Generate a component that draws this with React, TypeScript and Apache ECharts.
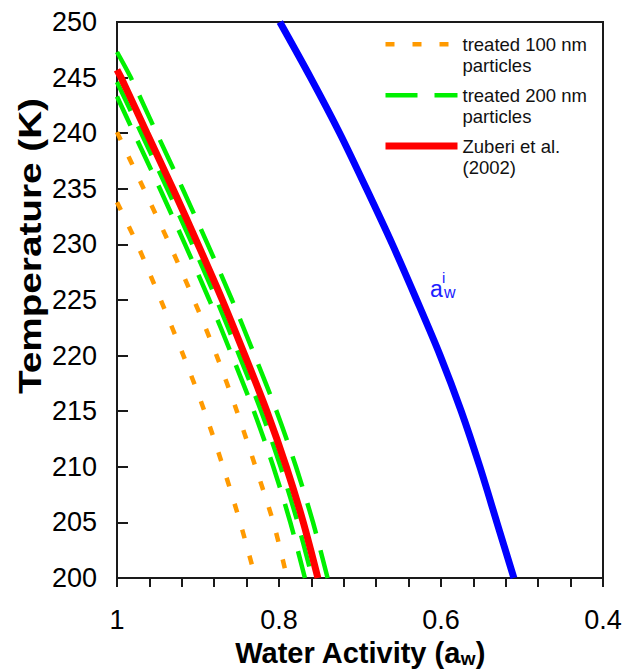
import React, { useEffect, useRef } from "react";
import * as echarts from "echarts";

// ---- data ----
const xTickLabels = ["1", "0.8", "0.6", "0.4"];
const yTickLabels = ["200", "205", "210", "215", "220", "225", "230", "235", "240", "245", "250"];

// treated 100 nm particles (two dotted curves)
const orangeA_T = [233.8, 230, 225, 220, 215, 210, 205, 200];
const orangeA_aw = [1.0, 0.975, 0.946, 0.918, 0.892, 0.869, 0.848, 0.829];
const orangeB_T = [240.1, 235, 230, 225, 220, 215, 210, 205, 200];
const orangeB_aw = [1.0, 0.967, 0.935, 0.905, 0.877, 0.852, 0.829, 0.807, 0.79];

// treated 200 nm particles (three dashed curves)
const green1_T = [243.3, 240, 235, 230, 225, 220, 215, 210, 205, 200];
const green1_aw = [1.0, 0.979, 0.947, 0.916, 0.886, 0.858, 0.831, 0.807, 0.786, 0.768];
const green2_T = [244.6, 240, 235, 230, 225, 220, 215, 210, 205, 200];
const green2_aw = [1.0, 0.97, 0.938, 0.907, 0.877, 0.849, 0.822, 0.798, 0.777, 0.759];
const green3_T = [247.3, 245, 240, 235, 230, 225, 220, 215, 210, 205, 200];
const green3_aw = [1.0, 0.983, 0.951, 0.919, 0.888, 0.858, 0.83, 0.803, 0.779, 0.758, 0.74];

// Zuberi et al. (2002)
const zuberi_T = [245.7, 245, 240, 235, 230, 225, 220, 215, 210, 205, 200];
const zuberi_aw = [1.0, 0.995, 0.963, 0.931, 0.9, 0.87, 0.842, 0.815, 0.791, 0.77, 0.752];

// ice water activity a_w^i
const ice_T = [250, 245, 240, 235, 230, 225, 220, 215, 210, 205, 200];
const ice_aw = [0.799, 0.761, 0.725, 0.692, 0.66, 0.63, 0.601, 0.575, 0.552, 0.531, 0.51];

const legendNames = ["treated 100 nm\nparticles", "treated 200 nm\nparticles", "Zuberi et al.\n(2002)"];

const zip = (aw: number[], t: number[]) => aw.map((a, i) => [a, t[i]]);

const FONT = "Liberation Sans, Arial, Helvetica, sans-serif";
const ORANGE = "#ff9a00";
const GREEN = "#00f000";
const RED = "#ff0000";
const BLUE = "#0000ff";
const AXIS = "#1a1a1a";

export default function App() {
  const ref = useRef<HTMLDivElement>(null);
  useEffect(() => {
    const chart = echarts.init(ref.current!, null, { renderer: "svg" });
    const orangeStyle = { color: ORANGE, width: 4.5, type: [9, 18] as any, cap: "butt" as const };
    const greenStyle = { color: GREEN, width: 4.5, type: [32, 17] as any, cap: "butt" as const };
    const redStyle = { color: RED, width: 7 };
    const blueStyle = { color: BLUE, width: 7 };
    const lineBase = { type: "line", showSymbol: false, symbol: "none", smooth: 0.3 };
    const option: any = {
      animation: false,
      backgroundColor: "#fff",
      textStyle: { fontFamily: FONT },
      grid: {
        left: 117,
        right: 22,
        top: 22,
        bottom: 91,
        show: true,
        borderColor: AXIS,
        borderWidth: 2,
        backgroundColor: "transparent",
        outerBoundsMode: "none",
        containLabel: false,
      },
      legend: {
        orient: "vertical",
        left: 377,
        top: 7,
        padding: 5,
        itemWidth: 72,
        itemHeight: 14,
        itemGap: -13.6,
        itemStyle: { opacity: 0 },
        formatter: (name: string) => "\n" + name,
        textStyle: {
          fontFamily: FONT,
          fontSize: 18.5,
          color: "#111",
          lineHeight: 21.5,
        },
        data: [
          { name: legendNames[0], itemStyle: { opacity: 0 }, lineStyle: { ...orangeStyle } },
          { name: legendNames[1], itemStyle: { opacity: 0 }, lineStyle: { ...greenStyle } },
          { name: legendNames[2], itemStyle: { opacity: 0 }, lineStyle: { ...redStyle } },
        ],
      },
      xAxis: {
        type: "value",
        inverse: true,
        min: 0.4,
        max: 1,
        interval: 0.2,
        axisLine: { show: true, onZero: false, lineStyle: { color: AXIS, width: 2 } },
        axisTick: { show: true, inside: false, length: 9, lineStyle: { color: AXIS, width: 2 } },
        minorTick: { show: true, splitNumber: 5, length: 9, lineStyle: { color: AXIS, width: 2 } },
        splitLine: { show: false },
        minorSplitLine: { show: false },
        axisLabel: {
          fontSize: 27,
          color: "#000",
          margin: 28,
          fontFamily: FONT,
          formatter: (v: number) => {
            const idx = Math.round((1 - v) / 0.2);
            return xTickLabels[idx] ?? "";
          },
        },
        name: "{t|Water Activity (a}{s|w}{t|)}",
        nameLocation: "middle",
        nameGap: 58,
        nameTextStyle: {
          lineHeight: 30,
          rich: {
            t: { fontSize: 29, lineHeight: 30, fontWeight: "bold", color: "#000", fontFamily: FONT },
            s: { fontSize: 19, lineHeight: 20, fontWeight: "bold", color: "#000", fontFamily: FONT, padding: [11, 0, 0, 0] },
          },
        },
      },
      yAxis: {
        type: "value",
        min: 200,
        max: 250,
        interval: 5,
        axisLine: { show: true, onZero: false, lineStyle: { color: AXIS, width: 2 } },
        axisTick: { show: true, inside: true, length: 11, lineStyle: { color: AXIS, width: 2 } },
        splitLine: { show: false },
        axisLabel: {
          fontSize: 27,
          color: "#000",
          margin: 20,
          fontFamily: FONT,
          formatter: (v: number) => yTickLabels[Math.round((v - 200) / 5)] ?? "",
        },
      },
      graphic: [
        {
          type: "text",
          x: 30,
          y: 246,
          rotation: Math.PI / 2,
          scaleX: 1.21,
          style: {
            text: "Temperature (K)",
            font: `bold 32px ${FONT}`,
            fill: "#000",
            textAlign: "center",
            textVerticalAlign: "middle",
          },
        },
        {
          type: "text",
          x: 430,
          y: 289,
          style: { text: "a", font: `23px ${FONT}`, fill: "#2020ff", textAlign: "left", textVerticalAlign: "middle" },
        },
        {
          type: "text",
          x: 442,
          y: 277,
          style: { text: "i", font: `15px ${FONT}`, fill: "#2020ff", textAlign: "left", textVerticalAlign: "middle" },
        },
        {
          type: "text",
          x: 444,
          y: 292,
          style: { text: "w", font: `16px ${FONT}`, fill: "#2020ff", textAlign: "left", textVerticalAlign: "middle" },
        },
      ],
      series: [
        { ...lineBase, name: legendNames[0], data: zip(orangeA_aw, orangeA_T), lineStyle: orangeStyle, itemStyle: { color: ORANGE }, z: 2 },
        { ...lineBase, name: legendNames[0], data: zip(orangeB_aw, orangeB_T), lineStyle: orangeStyle, itemStyle: { color: ORANGE }, z: 2 },
        { ...lineBase, name: legendNames[1], data: zip(green1_aw, green1_T), lineStyle: greenStyle, itemStyle: { color: GREEN }, z: 3 },
        { ...lineBase, name: legendNames[1], data: zip(green2_aw, green2_T), lineStyle: greenStyle, itemStyle: { color: GREEN }, z: 3 },
        { ...lineBase, name: legendNames[1], data: zip(green3_aw, green3_T), lineStyle: greenStyle, itemStyle: { color: GREEN }, z: 3 },
        { ...lineBase, name: legendNames[2], data: zip(zuberi_aw, zuberi_T), lineStyle: redStyle, itemStyle: { color: RED }, z: 4 },
        { ...lineBase, name: "ice", data: zip(ice_aw, ice_T), lineStyle: blueStyle, itemStyle: { color: BLUE }, z: 4 },
      ],
    };
    chart.setOption(option);
    return () => chart.dispose();
  }, []);
  return (
    <div
      ref={ref}
      style={{ position: "fixed", left: 0, top: 0, width: 625, height: 669, background: "#fff" }}
    />
  );
}
